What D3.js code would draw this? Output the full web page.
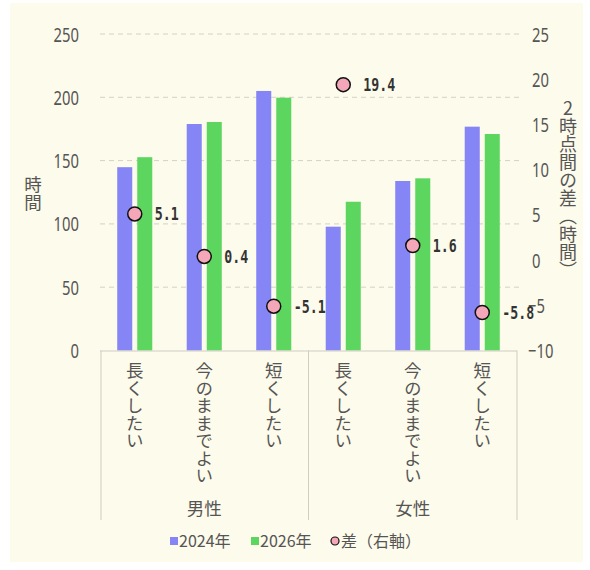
<!DOCTYPE html>
<html><head><meta charset="utf-8">
<script src="https://cdn.jsdelivr.net/npm/d3@7"></script>
<style>
html,body{margin:0;padding:0;background:#ffffff;}
svg{display:block;}
text{font-family:"Noto Sans CJK JP","Noto Sans",sans-serif;fill:#555;}
</style></head>
<body>
<svg id="chart" width="590" height="570"></svg>
<script>
const groups = ["男性", "女性"];
const categories = ["長くしたい", "今のままでよい", "短くしたい"];
const series = ["2024年", "2026年"];
const values2024 = [144.8, 178.9, 205, 97.8, 133.9, 176.8];
const values2026 = [152.7, 180.5, 199.7, 117.5, 136, 171];
const diffs = [5.1, 0.4, -5.1, 19.4, 1.6, -5.8];
const diffLabels = ["5.1", "0.4", "-5.1", "19.4", "1.6", "-5.8"];
const leftTicks = [0, 50, 100, 150, 200, 250];
const rightTicks = [-10, -5, 0, 5, 10, 15, 20, 25];
const legendLabels = ["2024年", "2026年", "差（右軸）"];

const colors = {b:"#8585f5", g:"#5dd65f", pink:"#f4a7b9"};
const svg = d3.select("#chart");
svg.append("rect").attr("x",10).attr("y",3).attr("width",573).attr("height",559).attr("fill","#fdfbeb");

const L = 100, R = 517, T = 34, B = 350.5;
const keys = [];
groups.forEach(g => categories.forEach(c => keys.push(g + "|" + c)));
const x = d3.scaleBand().domain(keys).range([L, R]).paddingInner(0).paddingOuter(0);
const xs = d3.scaleBand().domain(series).range([0, x.bandwidth()]).paddingInner(0.25).paddingOuter(0.86);
const y = d3.scaleLinear().domain([0, 250]).range([B, T]);
const y2 = d3.scaleLinear().domain([-10, 25]).range([B, T]);

// gridlines
svg.append("g").selectAll("line").data(leftTicks.filter(d => d > 0)).join("line")
  .attr("x1", L).attr("x2", R + 3).attr("y1", d => y(d)).attr("y2", d => y(d))
  .attr("stroke", "#d4d2c8").attr("stroke-width", 1).attr("stroke-dasharray", "5,4");

// left axis
const la = svg.append("g").attr("transform", `translate(${L - 21},0)`)
  .call(d3.axisLeft(y).tickValues(leftTicks).tickSize(0).tickPadding(0));
la.select(".domain").remove();
la.selectAll(".tick text").attr("x", null).attr("dy", null)
  .attr("transform", "translate(0,7) scale(0.74,1)")
  .style("font-size", "20px").style("font-family", '"Noto Sans","Noto Sans CJK JP",sans-serif')
  .attr("text-anchor", "end");

// right axis
const ra = svg.append("g").attr("transform", `translate(${R + 11},0)`)
  .call(d3.axisRight(y2).tickValues(rightTicks).tickSize(0).tickPadding(0).tickFormat(d => d < 0 ? "−" + Math.abs(d) : d));
ra.select(".domain").remove();
ra.selectAll(".tick text").attr("x", null).attr("dy", null)
  .attr("transform", d => `translate(${d < 0 ? 0 : 4},7) scale(0.74,1)`)
  .style("font-size", "20px").style("font-family", '"Noto Sans","Noto Sans CJK JP",sans-serif')
  .attr("text-anchor", "start");

// axis titles
svg.append("text").attr("x", 33).attr("y", 176).style("font-size", "17.5px")
  .style("writing-mode", "vertical-rl").style("text-orientation","upright").text("時間");
svg.append("text").attr("x", 568).attr("y", 99).style("font-size", "18px")
  .style("writing-mode", "vertical-rl").style("text-orientation","upright").text("2時点間の差（時間）");

// bars
const data = keys.map((k, i) => ({k, v: [values2024[i], values2026[i]], d: diffs[i], lab: diffLabels[i]}));
const gBars = svg.append("g");
data.forEach(d => {
  gBars.selectAll(null).data(series.map((s, j) => ({s, v: d.v[j], j}))).join("rect")
    .attr("x", e => x(d.k) + xs(e.s)).attr("width", xs.bandwidth())
    .attr("y", e => y(e.v)).attr("height", e => y(0) - y(e.v))
    .attr("fill", e => e.j === 0 ? colors.b : colors.g);
});

// category box
const cat = svg.append("g").attr("stroke", "#cfcdc4").attr("stroke-width", 1);
cat.append("line").attr("x1", L).attr("x2", R).attr("y1", B + 0.5).attr("y2", B + 0.5);
[L + 1, x(keys[3]), R].forEach(xx => {
  cat.append("line").attr("x1", xx).attr("x2", xx).attr("y1", B).attr("y2", 520);
});

// category labels
svg.append("g").selectAll("text").data(keys).join("text")
  .attr("x", k => x(k) + x.bandwidth() / 2).attr("y", 362)
  .style("font-size", "17.5px").style("writing-mode", "vertical-rl")
  .text(k => k.split("|")[1]);

// group labels
svg.append("g").selectAll("text").data(groups).join("text")
  .attr("x", (g, i) => (x(keys[i * 3]) + x(keys[i * 3 + 2]) + x.bandwidth()) / 2).attr("y", 515)
  .attr("text-anchor", "middle").style("font-size", "17.5px").text(g => g);

// points
svg.append("g").selectAll("circle").data(data).join("circle")
  .attr("cx", d => x(d.k) + x.bandwidth() / 2).attr("cy", d => y2(d.d)).attr("r", 7)
  .attr("fill", colors.pink).attr("stroke", "#111").attr("stroke-width", 1.5);
svg.append("g").selectAll("text").data(data).join("text")
  .attr("transform", d => `translate(${x(d.k) + x.bandwidth() / 2 + 20},${y2(d.d) + 6.5}) scale(0.78,1)`)
  .style("font-family", '"DejaVu Sans Mono",monospace').style("font-weight", "bold").style("font-size", "17px")
  .style("fill", "#333").text(d => d.lab);

// legend
const lg = svg.append("g");
const lx = [170, 251, 335];
lg.append("rect").attr("x", lx[0]).attr("y", 537).attr("width", 8).attr("height", 8).attr("fill", colors.b);
lg.append("rect").attr("x", lx[1]).attr("y", 537).attr("width", 8).attr("height", 8).attr("fill", colors.g);
lg.append("circle").attr("cx", lx[2]).attr("cy", 541).attr("r", 4).attr("fill", colors.pink).attr("stroke", "#111").attr("stroke-width", 1.2);
lg.selectAll("text").data(legendLabels).join("text")
  .attr("x", (d, i) => lx[i] + (i === 2 ? 6 : 9)).attr("y", 547).style("font-size", "16px").text(d => d);
</script>
</body></html>
